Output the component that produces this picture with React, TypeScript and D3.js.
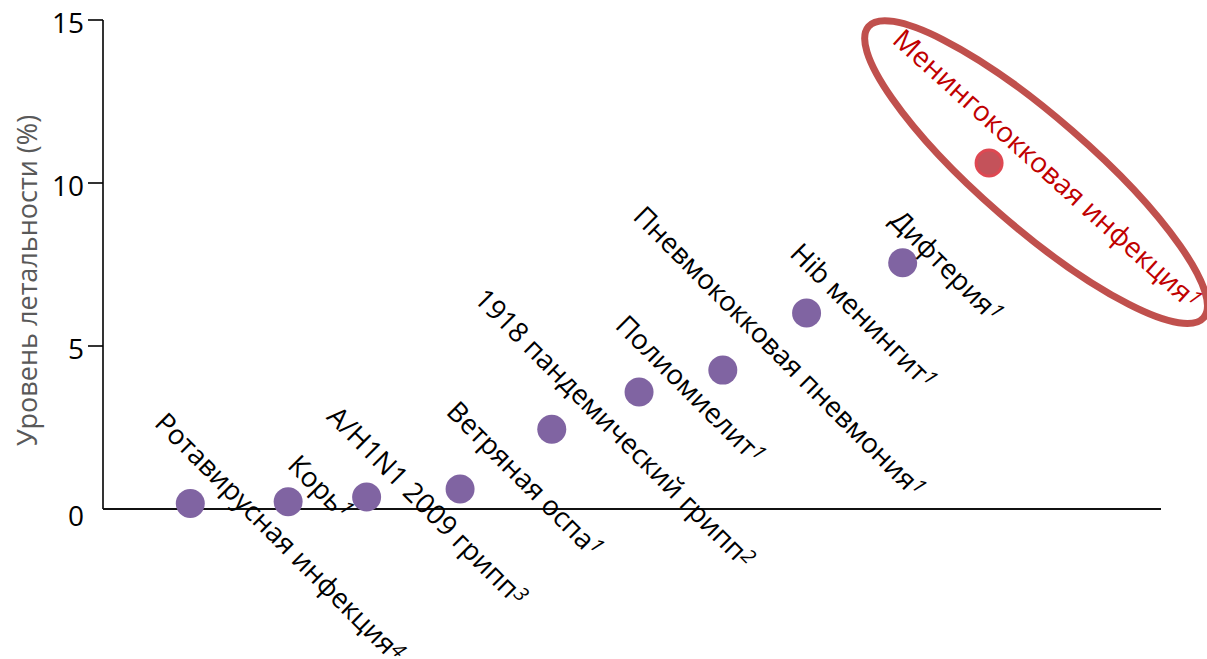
import React from "react";
import * as d3 from "d3";

// ---- data ----
const diseases = [
  "Ротавирусная инфекция",
  "Корь",
  "A/H1N1 2009 грипп",
  "Ветряная оспа",
  "1918 пандемический грипп",
  "Полиомиелит",
  "Пневмококковая пневмония",
  "Hib менингит",
  "Дифтерия",
  "Менингококковая инфекция",
];
const refs = ["4", "1", "3", "1", "2", "1", "1", "1", "1", "1"];
const xPos = [0.99, 2.1, 2.99, 4.05, 5.09, 6.08, 7.03, 7.98, 9.07, 10.05];
const fatality = [0.17, 0.22, 0.37, 0.61, 2.45, 3.59, 4.26, 6.01, 7.55, 10.61];
const yTicks = [0, 5, 10, 15];
const highlight = "Менингококковая инфекция";
const yTitle = "Уровень летальности (%)";

// ---- layout ----
const W = 1207;
const H = 659;
const labelDx = [-37, -2, -41, -15, -79, -25, -91, -18, -14, -98];
const labelDy = [-79, -35, -79, -76, -129, -65, -152, -58, -41, -121];
const FONT = "'Open Sans', sans-serif";

export default function App() {
  const x = d3.scaleLinear().domain([0, 12]).range([103, 1161]);
  const y = d3.scaleLinear().domain([0, 15]).range([509, 20]);
  const purple = "#8064A2";
  const hiIdx = diseases.indexOf(highlight);

  return (
    <svg
      width={W}
      height={H}
      style={{ position: "absolute", left: 0, top: 0, background: "#fff" }}
      fontFamily={FONT}
    >
      {/* axes */}
      <line x1={x(0)} x2={x(0)} y1={y(15)} y2={y(0)} stroke="#000" strokeWidth={1.6} />
      <line x1={x(0)} x2={x(12)} y1={y(0)} y2={y(0)} stroke="#111" strokeWidth={2} />
      {yTicks.map((t) => (
        <g key={t}>
          {t !== 0 && (
            <line x1={x(0) - 15} x2={x(0)} y1={y(t)} y2={y(t)} stroke="#000" strokeWidth={1.6} />
          )}
          <text
            x={x(0) - 19}
            y={y(t) + 13 + (t === 0 ? 4 : 0)}
            textAnchor="end"
            fontSize={28}
            fill="#000"
          >
            {t}
          </text>
        </g>
      ))}
      <text
        transform={`translate(37, 280.5) rotate(-90)`}
        textAnchor="middle"
        fontSize={27}
        fill="#595959"
      >
        {yTitle}
      </text>

      {/* highlight ellipse */}
      <ellipse
        cx={0}
        cy={0}
        rx={222}
        ry={55}
        fill="none"
        stroke="#C0504D"
        strokeWidth={7}
        transform={`translate(${x(xPos[hiIdx]) + 47}, ${y(fatality[hiIdx]) + 9}) rotate(41)`}
      />

      {/* points */}
      {diseases.map((d, i) => (
        <circle
          key={d}
          cx={x(xPos[i])}
          cy={y(fatality[i])}
          r={d === highlight ? 13 : 14.5}
          fill={d === highlight ? "#C4525A" : purple}
          stroke={d === highlight ? "#DE4852" : "none"}
          strokeWidth={d === highlight ? 3 : 0}
        />
      ))}

      {/* labels */}
      {diseases.map((d, i) => (
        <text
          key={d + "-l"}
          transform={`translate(${x(xPos[i]) + labelDx[i]}, ${y(fatality[i]) + labelDy[i]}) rotate(${
            d === highlight ? 42 : 45
          })`}
          fontSize={d === highlight ? 28 : 27.5}
          fill={d === highlight ? "#C00000" : "#000"}
        >
          {d}
          <tspan fontSize={20} fontStyle="italic" dy={-7}>
            {refs[i]}
          </tspan>
        </text>
      ))}
    </svg>
  );
}
